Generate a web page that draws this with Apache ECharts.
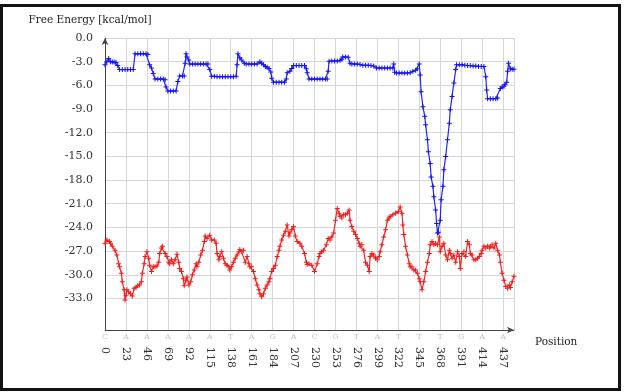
<!DOCTYPE html>
<html>
<head>
<meta charset="utf-8">
<script src="https://cdn.jsdelivr.net/npm/echarts@6/dist/echarts.min.js"></script>
<style>
html, body { margin: 0; padding: 0; background: #fff; }
#frame { position: absolute; left: 0; top: 4px; width: 615px; height: 381px; border: 3px solid #111; }
#chart { position: absolute; left: 0; top: 0; width: 624px; height: 392px; }
</style>
</head>
<body>
<div id="frame"></div>
<div id="chart"></div>
<script>
// tick labels along the sequence (every 23 positions)
const tickPositions = [0, 23, 46, 69, 92, 115, 138, 161, 184, 207, 230, 253, 276, 299, 322, 345, 368, 391, 414, 437]
const tickBases = ['C', 'A', 'A', 'A', 'A', 'A', 'T', 'A', 'G', 'A', 'C', 'G', 'T', 'A', 'T', 'T', 'T', 'G', 'A', 'A']
const yTicks = [0, -3, -6, -9, -12, -15, -18, -21, -24, -27, -30, -33]

// blue curve (upper)
const bluePos = [0, 2, 4, 6, 8, 10, 12, 14, 16, 19, 22, 25, 28, 31, 33, 36, 39, 42, 45, 47, 49, 51, 53, 55, 58, 61, 64, 66, 67, 69, 72, 75, 78, 80, 82, 85, 87, 88, 89, 90, 92, 93, 96, 99, 102, 105, 108, 111, 113, 115, 117, 120, 123, 126, 129, 132, 135, 138, 141, 144, 145, 146, 148, 150, 153, 155, 158, 161, 164, 167, 170, 172, 174, 176, 178, 180, 182, 183, 185, 188, 191, 194, 197, 199, 200, 203, 205, 207, 210, 213, 216, 219, 221, 222, 224, 227, 230, 233, 236, 239, 242, 244, 245, 246, 249, 252, 255, 258, 260, 261, 264, 267, 269, 271, 274, 277, 280, 283, 286, 289, 292, 295, 298, 301, 304, 307, 310, 313, 316, 317, 318, 320, 323, 326, 329, 332, 335, 338, 341, 343, 345, 346, 347, 349, 351, 352, 354, 355, 357, 358, 360, 361, 363, 364, 365, 366, 368, 369, 371, 372, 374, 376, 378, 379, 381, 383, 385, 386, 389, 392, 395, 398, 401, 404, 407, 410, 413, 416, 418, 419, 420, 423, 426, 429, 431, 434, 436, 438, 439, 441, 442, 443, 445, 447, 449]
const blueVal = [-3.4, -3.0, -2.6, -3.0, -3.05, -3.05, -3.1, -3.5, -4.0, -4.0, -4.0, -4.0, -4.0, -4.0, -2.0, -2.0, -2.0, -2.0, -2.0, -2.1, -3.4, -3.8, -4.5, -5.2, -5.2, -5.2, -5.2, -5.3, -6.2, -6.7, -6.7, -6.7, -6.7, -5.5, -4.8, -4.8, -4.8, -3.2, -2.0, -2.4, -2.8, -3.3, -3.3, -3.3, -3.3, -3.3, -3.3, -3.3, -3.3, -4.0, -4.85, -4.85, -4.9, -4.9, -4.9, -4.9, -4.9, -4.9, -4.9, -4.85, -3.4, -2.0, -2.5, -2.8, -3.2, -3.3, -3.3, -3.3, -3.3, -3.3, -3.0, -3.2, -3.4, -3.6, -3.7, -3.85, -4.3, -5.1, -5.6, -5.6, -5.6, -5.6, -5.6, -5.2, -4.4, -4.2, -3.85, -3.5, -3.5, -3.5, -3.5, -3.5, -3.9, -4.4, -5.2, -5.2, -5.2, -5.2, -5.2, -5.2, -5.2, -5.2, -4.2, -2.95, -2.9, -2.9, -2.9, -2.85, -2.7, -2.4, -2.4, -2.45, -3.2, -3.3, -3.3, -3.3, -3.35, -3.45, -3.45, -3.45, -3.5, -3.55, -3.8, -3.8, -3.8, -3.8, -3.8, -3.8, -3.8, -3.3, -4.35, -4.45, -4.45, -4.45, -4.45, -4.45, -4.4, -4.2, -4.1, -3.9, -3.3, -4.7, -6.8, -8.7, -9.9, -11.0, -12.9, -14.4, -15.9, -17.6, -18.8, -20.1, -21.8, -23.5, -24.7, -24.6, -23.1, -20.5, -18.8, -16.7, -15.0, -12.9, -10.8, -9.1, -7.4, -5.7, -4.0, -3.4, -3.4, -3.4, -3.45, -3.5, -3.5, -3.55, -3.55, -3.6, -3.6, -3.6, -4.9, -6.6, -7.7, -7.7, -7.7, -7.7, -7.6, -6.4, -6.2, -6.1, -5.9, -5.6, -4.2, -3.2, -3.9, -3.95, -3.95]

// red curve (lower)
const redPos = [0, 2, 5, 6, 8, 11, 13, 15, 16, 18, 19, 21, 22, 23, 24, 26, 28, 30, 32, 34, 36, 38, 40, 41, 43, 44, 46, 48, 49, 51, 53, 55, 57, 59, 60, 62, 63, 66, 68, 70, 71, 73, 75, 77, 79, 81, 82, 84, 86, 87, 89, 90, 92, 94, 96, 98, 100, 101, 103, 105, 107, 109, 110, 112, 115, 117, 120, 122, 123, 125, 126, 128, 130, 132, 134, 136, 137, 139, 141, 143, 145, 147, 148, 150, 152, 154, 156, 158, 159, 161, 163, 165, 167, 169, 170, 172, 174, 176, 178, 180, 181, 183, 185, 187, 189, 191, 192, 194, 196, 198, 200, 202, 203, 205, 207, 209, 211, 214, 216, 219, 221, 222, 224, 227, 230, 233, 235, 236, 238, 240, 243, 245, 247, 249, 251, 253, 255, 257, 258, 260, 262, 264, 266, 268, 269, 271, 273, 275, 277, 279, 280, 282, 284, 286, 288, 290, 291, 293, 295, 297, 299, 301, 302, 304, 306, 308, 310, 312, 313, 316, 319, 322, 324, 326, 327, 328, 330, 332, 334, 335, 337, 339, 341, 343, 345, 346, 348, 350, 352, 354, 356, 357, 359, 361, 363, 365, 367, 368, 370, 372, 374, 376, 378, 379, 381, 383, 385, 387, 389, 390, 392, 394, 396, 398, 400, 401, 403, 405, 407, 409, 411, 413, 414, 416, 418, 420, 422, 423, 425, 427, 429, 431, 433, 434, 436, 438, 440, 442, 444, 445, 447, 449]
const redVal = [-26.0, -25.6, -25.8, -26.0, -26.4, -26.9, -27.5, -28.6, -29.0, -29.8, -30.9, -31.9, -33.2, -32.6, -31.9, -32.2, -32.4, -32.7, -31.7, -31.6, -31.4, -31.3, -30.9, -29.8, -28.6, -27.7, -27.1, -27.9, -28.8, -29.6, -29.0, -29.0, -28.9, -28.4, -27.3, -26.6, -26.4, -27.3, -27.7, -28.4, -28.6, -28.1, -28.6, -28.1, -27.4, -28.4, -29.2, -29.6, -30.5, -31.4, -30.7, -30.3, -31.3, -30.9, -30.0, -29.4, -28.6, -29.0, -28.4, -27.5, -26.9, -25.8, -25.1, -25.4, -25.0, -25.6, -25.6, -26.0, -27.3, -28.1, -27.7, -27.1, -27.9, -28.6, -28.8, -29.0, -29.4, -29.0, -28.4, -27.9, -27.5, -27.1, -26.8, -27.1, -26.9, -28.4, -27.7, -28.6, -29.0, -29.0, -29.6, -30.5, -31.3, -31.9, -32.4, -32.8, -32.4, -31.7, -31.3, -30.9, -30.5, -29.6, -29.2, -28.8, -27.7, -26.9, -26.4, -25.6, -25.0, -24.5, -23.7, -25.1, -24.7, -24.3, -23.9, -25.1, -25.8, -26.0, -26.4, -27.3, -28.4, -28.7, -28.6, -28.8, -29.6, -28.6, -27.7, -27.3, -27.1, -26.9, -26.2, -25.4, -25.6, -25.2, -24.7, -23.1, -21.6, -22.2, -22.6, -22.8, -22.4, -22.4, -22.2, -21.8, -23.1, -23.9, -24.5, -24.9, -25.4, -26.0, -26.4, -26.2, -26.9, -28.4, -28.8, -29.6, -27.7, -27.3, -27.5, -27.9, -28.1, -27.7, -27.1, -26.2, -25.2, -24.3, -23.1, -22.8, -22.6, -22.4, -22.2, -22.0, -21.4, -22.2, -23.7, -24.9, -26.4, -27.5, -28.6, -29.0, -29.0, -29.4, -29.4, -29.8, -30.5, -30.9, -31.9, -30.9, -29.6, -28.4, -27.3, -26.2, -25.8, -26.2, -26.0, -26.2, -25.2, -27.1, -26.4, -26.0, -27.5, -28.1, -26.9, -27.3, -27.9, -27.5, -28.4, -27.1, -27.7, -29.2, -27.3, -27.1, -27.7, -25.8, -26.2, -27.3, -27.5, -28.1, -28.1, -27.9, -27.7, -27.3, -26.9, -26.4, -26.6, -26.4, -26.6, -26.4, -26.2, -26.6, -26.0, -26.9, -27.5, -28.4, -29.8, -30.7, -31.5, -31.7, -31.3, -31.6, -30.9, -30.2]

const lastPos = 449
const plusSymbol = 'path://M2,0H3V2H5V3H3V5H2V3H0V2H2Z'
const serif = 'DejaVu Serif'

const zip = (xs, ys) => xs.map((x, i) => [x, ys[i]])

const chart = echarts.init(document.getElementById('chart'))

const baseX = {
  type: 'value',
  min: 0,
  max: lastPos,
  interval: 23,
  axisTick: { show: false }
}

const option = {
  animation: false,
  title: {
    text: 'Position',
    left: 535,
    top: 337,
    padding: 0,
    textStyle: { fontFamily: serif, fontSize: 10.5, fontWeight: 'normal', color: '#222' }
  },
  grid: { left: 105, right: 110, top: 38, bottom: 62 },
  xAxis: [
    {
      ...baseX,
      position: 'bottom',
      axisLine: { show: true, onZero: false, symbol: ['none', 'arrow'], symbolSize: [5, 7], lineStyle: { color: '#444' } },
      axisLabel: {
        margin: 3,
        fontSize: 8,
        fontFamily: serif,
        color: '#c4c4c4',
        formatter: v => {
          const i = tickPositions.indexOf(v)
          return i >= 0 ? tickBases[i] : ''
        }
      },
      splitLine: { show: true, lineStyle: { color: '#d6d6d6' } }
    },
    {
      ...baseX,
      position: 'bottom',
      axisLine: { show: false, onZero: false },
      splitLine: { show: false },
      axisLabel: {
        rotate: -90,
        margin: 17,
        fontSize: 11,
        fontFamily: serif,
        color: '#333',
        formatter: v => (tickPositions.indexOf(v) >= 0 ? String(v) : '')
      }
    }
  ],
  yAxis: {
    type: 'value',
    min: -37,
    max: 0,
    axisLine: { show: true, onZero: false, symbol: ['none', 'arrow'], symbolSize: [5, 7], lineStyle: { color: '#444' } },
    axisTick: { show: false, customValues: yTicks },
    axisLabel: {
      customValues: yTicks,
      margin: 12,
      fontSize: 11,
      fontFamily: serif,
      color: '#333',
      formatter: v => v.toFixed(1)
    },
    splitLine: { show: true, lineStyle: { color: '#d6d6d6' } },
    name: 'Free Energy [kcal/mol]',
    nameLocation: 'end',
    nameGap: 12,
    nameTextStyle: { fontFamily: serif, fontSize: 10.5, color: '#222', align: 'center', padding: [0, 30, 0, 0] }
  },
  series: [
    {
      name: 'upper',
      type: 'line',
      data: zip(bluePos, blueVal),
      symbol: plusSymbol,
      symbolSize: 5,
      showAllSymbol: true,
      lineStyle: { width: 1.2, color: '#2424f4' },
      itemStyle: { color: '#1414f4' }
    },
    {
      name: 'lower',
      type: 'line',
      data: zip(redPos, redVal),
      symbol: plusSymbol,
      symbolSize: 5,
      showAllSymbol: true,
      lineStyle: { width: 1.2, color: '#f02a2a' },
      itemStyle: { color: '#f01c1c' }
    }
  ]
}

chart.setOption(option)
</script>
</body>
</html>
